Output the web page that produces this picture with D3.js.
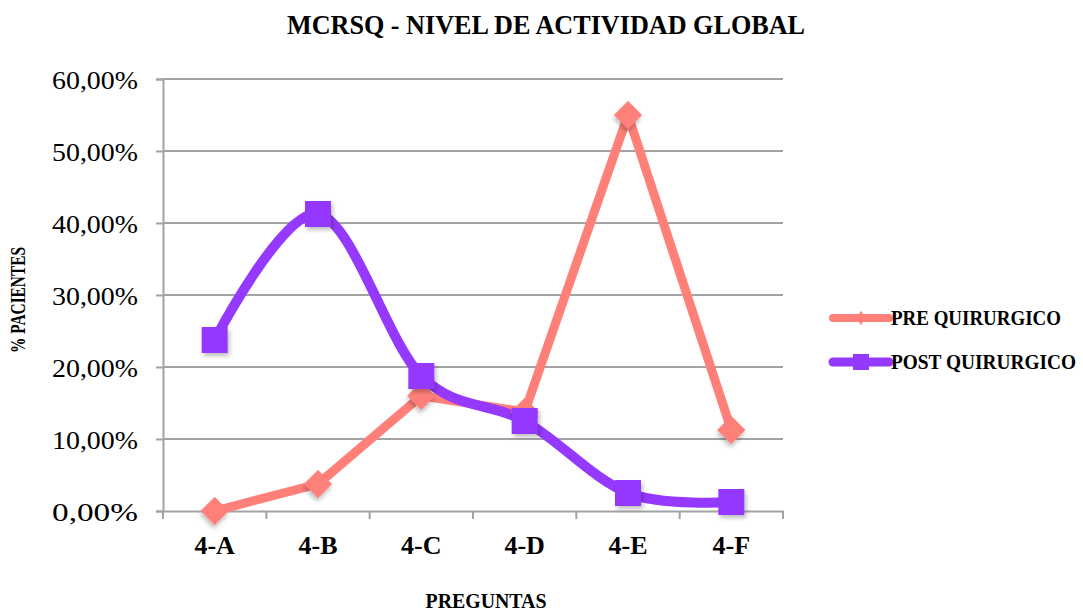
<!DOCTYPE html>
<html>
<head>
<meta charset="utf-8">
<script src="https://cdn.jsdelivr.net/npm/d3@7"></script>
<style>
  body { margin: 0; background: #fff; }
  svg { display: block; }
  text { font-family: "Liberation Serif", "DejaVu Serif", serif; fill: #000; }
</style>
</head>
<body>
<div class="chart"></div>
<script>
var categories = ["4-A", "4-B", "4-C", "4-D", "4-E", "4-F"];
var preValues = [0.0, 0.0375, 0.16, 0.1375, 0.55, 0.1125];
var postValues = [0.2375, 0.4125, 0.1875, 0.125, 0.025, 0.0125];
var yTicks = [0, 0.1, 0.2, 0.3, 0.4, 0.5, 0.6];
var seriesNames = ["PRE QUIRURGICO", "POST QUIRURGICO"];

var width = 1083;
var height = 611;
var margin = {left: 163, right: 300, top: 79, bottom: 100};

var svg = d3.select(".chart").append("svg")
  .attr("width", width)
  .attr("height", height);

// soft shadow like the original markers
var defs = svg.append("defs");
defs.append("filter")
  .attr("id", "shadow")
  .attr("x", "-50%").attr("y", "-50%")
  .attr("width", "200%").attr("height", "200%")
  .append("feDropShadow")
  .attr("dx", 2).attr("dy", 3)
  .attr("stdDeviation", 2)
  .attr("flood-color", "#000")
  .attr("flood-opacity", 0.25);

var x = d3.scaleBand()
  .domain(categories)
  .range([margin.left, width - margin.right]);

var y = d3.scaleLinear()
  .domain([0, 0.6])
  .range([height - margin.bottom, margin.top]);

var fmt = function(d) { return d3.format(".2f")(d * 100).replace(".", ",") + "%"; };

// gridlines
svg.append("g")
  .selectAll("line")
  .data(yTicks.slice(1))
  .join("line")
  .attr("x1", margin.left)
  .attr("x2", width - margin.right)
  .attr("y1", d => y(d))
  .attr("y2", d => y(d))
  .attr("stroke", "#a3a3a3")
  .attr("stroke-width", 2);

// y axis
var yAxis = svg.append("g")
  .attr("transform", "translate(" + margin.left + ",0)")
  .call(d3.axisLeft(y).tickValues(yTicks).tickFormat(fmt).tickSize(7).tickPadding(18));
yAxis.select(".domain").attr("stroke", "#a3a3a3").attr("stroke-width", 2);
yAxis.selectAll(".tick line").attr("stroke", "#a3a3a3").attr("stroke-width", 2);
yAxis.selectAll(".tick text")
  .style("font-size", "26px")
  .attr("dy", "0.38em")
  .attr("textLength", 86)
  .attr("lengthAdjust", "spacingAndGlyphs");

// x axis
var xAxis = svg.append("g")
  .attr("transform", "translate(0," + y(0) + ")")
  .call(d3.axisBottom(x).tickSize(0).tickPadding(25));
xAxis.select(".domain").attr("stroke", "#a3a3a3").attr("stroke-width", 2);
xAxis.selectAll(".tick text")
  .style("font-size", "26px")
  .style("font-weight", "bold");

// boundary ticks between categories
var bounds = categories.map(d => x(d)).concat([x.range()[1]]);
xAxis.append("g")
  .selectAll("line")
  .data(bounds)
  .join("line")
  .attr("x1", d => d).attr("x2", d => d)
  .attr("y1", 0).attr("y2", 8)
  .attr("stroke", "#a3a3a3")
  .attr("stroke-width", 2);

var cx = d => x(d) + x.bandwidth() / 2;

// PRE line (straight)
var preLine = d3.line()
  .x((d, i) => cx(categories[i]))
  .y(d => y(d));

var preColor = "#ff7f79";
var postColor = "#9539ff";

svg.append("path")
  .datum(preValues)
  .attr("d", preLine)
  .attr("fill", "none")
  .attr("stroke", preColor)
  .attr("stroke-width", 9)
  .attr("stroke-linejoin", "round");

// POST line (smoothed)
var postLine = d3.line()
  .x((d, i) => cx(categories[i]))
  .y(d => y(d))
  .curve(d3.curveCatmullRom.alpha(0));

svg.append("path")
  .datum(postValues)
  .attr("d", postLine)
  .attr("fill", "none")
  .attr("stroke", postColor)
  .attr("stroke-width", 10)
  .attr("stroke-linecap", "round");

// markers
svg.append("g")
  .selectAll("path")
  .data(preValues)
  .join("path")
  .attr("transform", (d, i) => "translate(" + cx(categories[i]) + "," + y(d) + ") rotate(45)")
  .attr("d", "M-10,-10H10V10H-10Z")
  .attr("fill", preColor)
  .attr("filter", "url(#shadow)");

svg.append("g")
  .selectAll("rect")
  .data(postValues)
  .join("rect")
  .attr("x", (d, i) => cx(categories[i]) - 13)
  .attr("y", d => y(d) - 13)
  .attr("width", 26)
  .attr("height", 26)
  .attr("fill", postColor)
  .attr("filter", "url(#shadow)");

// title
svg.append("text")
  .attr("x", 546)
  .attr("y", 34)
  .attr("text-anchor", "middle")
  .style("font-size", "27px")
  .style("font-weight", "bold")
  .attr("textLength", 518)
  .attr("lengthAdjust", "spacingAndGlyphs")
  .text("MCRSQ - NIVEL DE ACTIVIDAD GLOBAL");

// axis titles
svg.append("text")
  .attr("transform", "translate(25,300) rotate(-90)")
  .attr("text-anchor", "middle")
  .style("font-size", "20px")
  .style("font-weight", "bold")
  .attr("textLength", 106)
  .attr("lengthAdjust", "spacingAndGlyphs")
  .text("% PACIENTES");

svg.append("text")
  .attr("x", 486)
  .attr("y", 608)
  .attr("text-anchor", "middle")
  .style("font-size", "20px")
  .style("font-weight", "bold")
  .attr("textLength", 121)
  .attr("lengthAdjust", "spacingAndGlyphs")
  .text("PREGUNTAS");

// legend
var legend = svg.append("g")
  .selectAll("g")
  .data(seriesNames)
  .join("g")
  .attr("transform", (d, i) => "translate(833," + (318 + i * 44) + ")");

legend.append("line")
  .attr("x1", 0).attr("x2", 56)
  .attr("stroke", (d, i) => i == 0 ? preColor : postColor)
  .attr("stroke-width", (d, i) => i == 0 ? 8 : 9)
  .attr("stroke-linecap", "round");

legend.append("path")
  .attr("transform", "translate(28,0)")
  .attr("d", (d, i) => i == 0 ? d3.symbol(d3.symbolDiamond, 60)() : "M-8,-8H8V8H-8Z")
  .attr("fill", (d, i) => i == 0 ? preColor : postColor);

legend.append("text")
  .attr("x", 58)
  .attr("y", 7)
  .style("font-size", "20px")
  .style("font-weight", "bold")
  .attr("textLength", (d, i) => i == 0 ? 170 : 185)
  .attr("lengthAdjust", "spacingAndGlyphs")
  .text(d => d);
</script>
</body>
</html>
